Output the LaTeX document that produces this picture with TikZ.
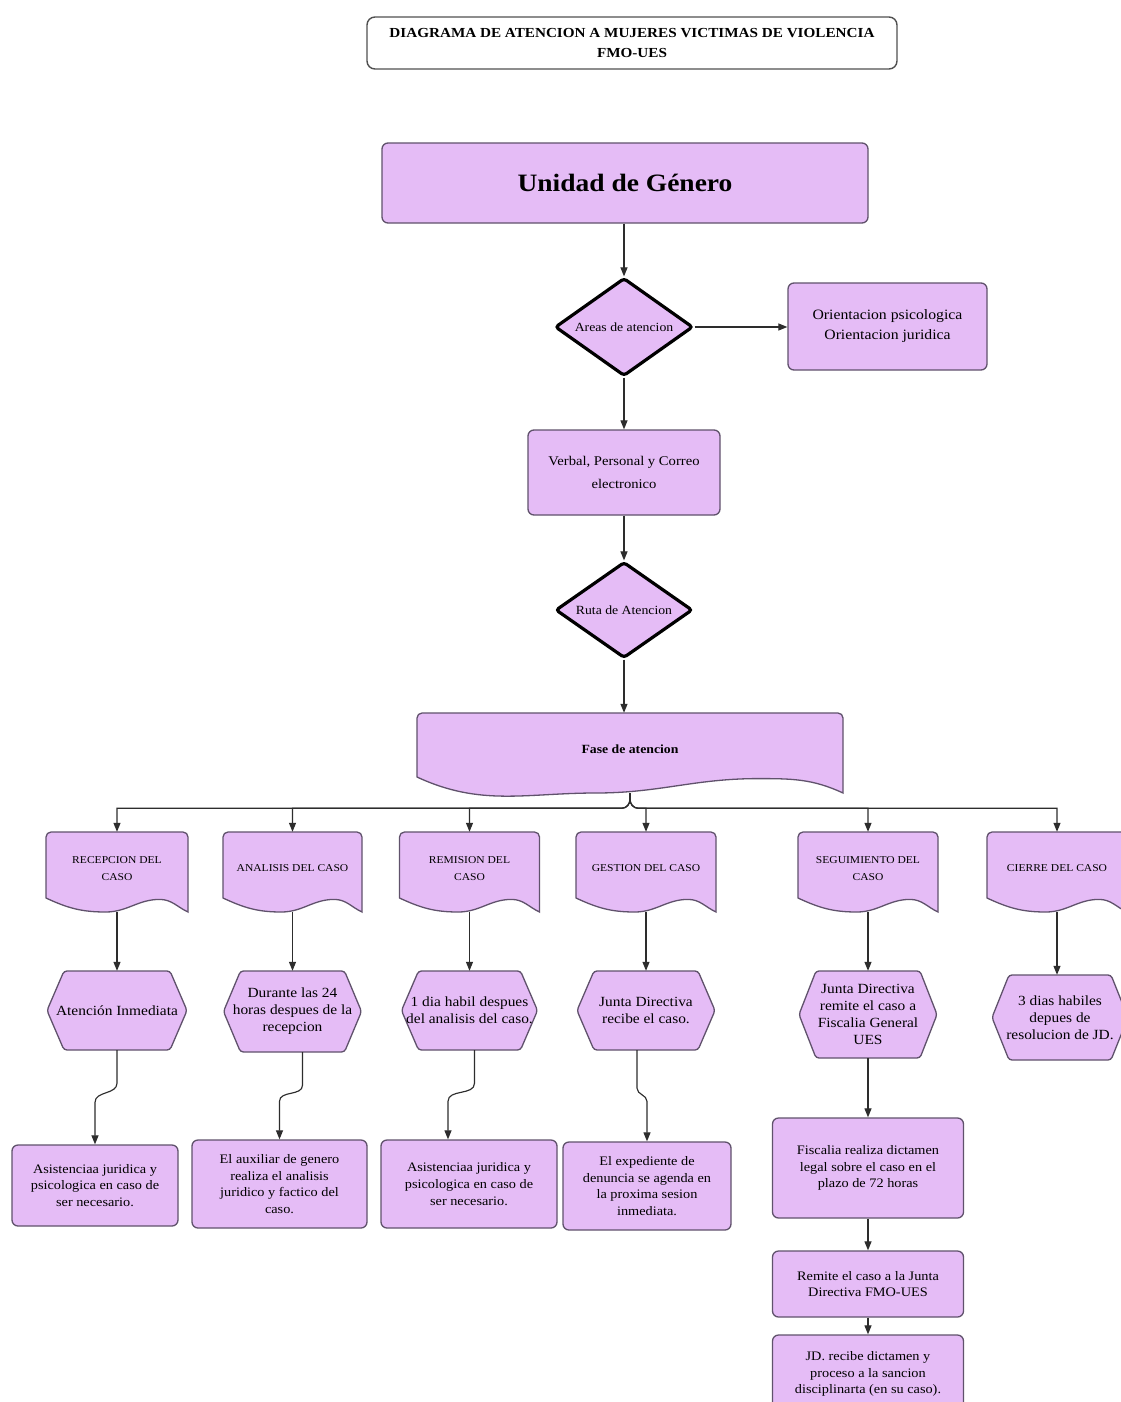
\documentclass[tikz,border=0pt]{standalone}
\usepackage{fontspec}
\setmainfont{Liberation Serif}[FakeStretch=1.1]
\usetikzlibrary{shapes.geometric,arrows.meta,calc}
\pgfdeclarelayer{background}
\pgfsetlayers{background,main}
\definecolor{lilac}{RGB}{229,188,246}
\definecolor{edgec}{RGB}{96,82,108}
\definecolor{wirec}{RGB}{45,45,45}
\definecolor{titleedge}{RGB}{80,80,80}

\tikzset{
  box/.style={draw=edgec, fill=lilac, line width=1.3pt, rounded corners=6pt, align=center, inner sep=0pt,
    font=\fontsize{13}{16.7}\selectfont},
  titlebox/.style={draw=titleedge, fill=white, line width=1.4pt, rounded corners=8pt, align=center, inner sep=0pt,
    font=\fontsize{13.8}{20}\selectfont\bfseries},
  dec/.style={diamond, aspect=1.4, draw=black, fill=lilac, line width=3.2pt, rounded corners=3pt, inner sep=0pt,
    minimum width=138pt, minimum height=98pt, font=\fontsize{12.5}{15}\selectfont},
  docarea/.style={draw=none, inner sep=0pt, align=center},
  docshape/.style={draw=edgec, fill=lilac, line width=1.3pt},
  hexshape/.style={draw=edgec, fill=lilac, line width=1.3pt, rounded corners=3pt},
  hexfont/.style={font=\fontsize{14}{17}\selectfont},
  phasefont/.style={font=\fontsize{10.5}{16.7}\selectfont},
  fasefont/.style={font=\fontsize{12.5}{15}\selectfont\bfseries},
  verbfont/.style={font=\fontsize{13.3}{23}\selectfont},
  orientfont/.style={font=\fontsize{14.3}{20}\selectfont},
  arr/.style={draw=wirec, line width=1.15pt, -{Triangle[length=9pt,width=7pt]}},
}

% document shape: #1 name, #2 cx, #3 top, #4 bottom, #5 width, #6 wave depth, #7 font style, #8 text
\newcommand\docbox[8]{%
  \node[docarea, minimum width=#5pt, minimum height={(#4-#3)*1pt}] (#1) at (#2,{-(#3+#4)/2}) {};
  \node[docarea, #7] (#1t) at (#2,{-(2*#3+2*#4-#6)/4}) {#8};
  \begin{pgfonlayer}{background}
  \path[docshape] ({#2-#5/2},{-#4+#6}) -- ({#2-#5/2},{-#3-5})
     arc[start angle=180,end angle=90,radius=5] -- ({#2+#5/2-5},-#3)
     arc[start angle=90,end angle=0,radius=5] -- ({#2+#5/2},-#4)
     to[out=155,in=0] ({#2-#5/2+0.8*#5},{-#4+0.9*#6})
     to[out=180,in=0] ({#2-#5/2+0.42*#5},-#4)
     to[out=180,in=-25] ({#2-#5/2},{-#4+#6}) -- cycle;
  \end{pgfonlayer}}

% hexagon: #1 name, #2 cx, #3 cy, #4 width, #5 height, #6 inset, #7 text
\newcommand\hexbox[7]{%
  \node[docarea, hexfont, minimum width=#4pt, minimum height=#5pt] (#1) at (#2,-#3) {#7};
  \begin{pgfonlayer}{background}
  \path[hexshape] ({#2-#4/2},-#3) -- ({#2-#4/2+#6},{-#3+#5/2}) -- ({#2+#4/2-#6},{-#3+#5/2})
     -- ({#2+#4/2},-#3) -- ({#2+#4/2-#6},{-#3-#5/2}) -- ({#2-#4/2+#6},{-#3-#5/2}) -- cycle;
  \end{pgfonlayer}}

\begin{document}
\begin{tikzpicture}[x=1pt,y=1pt]
\useasboundingbox (0,0) rectangle (1120,-1402);
\begin{pgfonlayer}{background}
\fill[white] (0,0) rectangle (1120,-1402);
\end{pgfonlayer}

% title
\node[titlebox, minimum width=530pt, minimum height=52pt] (title) at (632,-43)
  {DIAGRAMA DE ATENCION A MUJERES VICTIMAS DE VIOLENCIA\\FMO-UES};

% top column
\node[box, minimum width=486pt, minimum height=80pt, font=\fontsize{25}{30}\selectfont\bfseries] (unidad) at (625,-183) {Unidad de Género};
\node[dec] (areas) at (624,-327) {Areas de atencion};
\node[box, orientfont, minimum width=199pt, minimum height=87pt] (orient) at (887.5,-326.5) {Orientacion psicologica\\Orientacion juridica};
\node[box, verbfont, minimum width=192pt, minimum height=85pt] (verbal) at (624,-472.5) {Verbal, Personal y Correo\\electronico};
\node[dec, minimum width=137pt, minimum height=96pt] (ruta) at (624,-610) {Ruta de Atencion};
\docbox{fase}{630}{713}{793}{426}{16}{fasefont}{Fase de atencion}

% phases
\docbox{p1}{117}{832}{912}{142}{14}{phasefont}{RECEPCION DEL\\CASO}
\docbox{p2}{292.5}{832}{912}{139}{14}{phasefont}{ANALISIS DEL CASO}
\docbox{p3}{469.5}{832}{912}{140}{14}{phasefont}{REMISION DEL\\CASO}
\docbox{p4}{646}{832}{912}{140}{14}{phasefont}{GESTION DEL CASO}
\docbox{p5}{868}{832}{912}{140}{14}{phasefont}{SEGUIMIENTO DEL\\CASO}
\docbox{p6}{1057}{832}{912}{140}{14}{phasefont}{CIERRE DEL CASO}

% hexagons
\hexbox{h1}{117}{1010.5}{140}{79}{17}{Atención Inmediata}
\hexbox{h2}{292.5}{1011.5}{138}{81}{17}{Durante las 24\\horas despues de la\\recepcion}
\hexbox{h3}{469.5}{1010.5}{136}{79}{17}{1 dia habil despues\\del analisis del caso.}
\hexbox{h4}{646}{1010.5}{138}{79}{17}{Junta Directiva\\recibe el caso.}
\hexbox{h5}{868}{1014.5}{138}{87}{17}{Junta Directiva\\remite el caso a\\Fiscalia General\\UES}
\hexbox{h6}{1060}{1017.5}{136}{85}{17}{3 dias habiles\\depues de\\resolucion de JD.}

% bottom boxes
\node[box, minimum width=166pt, minimum height=81pt] (b1) at (95,-1185.5) {Asistenciaa juridica y\\psicologica en caso de\\ser necesario.};
\node[box, minimum width=175pt, minimum height=88pt] (b2) at (279.5,-1184) {El auxiliar de genero\\realiza el analisis\\juridico y factico del\\caso.};
\node[box, minimum width=176pt, minimum height=88pt] (b3) at (469,-1184) {Asistenciaa juridica y\\psicologica en caso de\\ser necesario.};
\node[box, minimum width=168pt, minimum height=88pt] (b4) at (647,-1186) {El expediente de\\denuncia se agenda en\\la proxima sesion\\inmediata.};
\node[box, minimum width=191pt, minimum height=100pt] (fisc) at (868,-1168) {Fiscalia realiza dictamen\\legal sobre el caso en el\\plazo de 72 horas};
\node[box, minimum width=191pt, minimum height=66pt] (remite) at (868,-1284) {Remite el caso a la Junta\\Directiva FMO-UES};
\node[box, minimum width=191pt, minimum height=78pt] (jd) at (868,-1374) {JD. recibe dictamen y\\proceso a la sancion\\disciplinarta (en su caso).};

% connectors, top column
\draw[arr] (unidad.south -| areas.north) -- (areas.north);
\draw[arr] (areas.east) -- (areas.east -| orient.west);
\draw[arr] (areas.south) -- (verbal.north);
\draw[arr] (verbal.south) -- (ruta.north);
\draw[arr] (ruta.south) -- (ruta.south |- fase.north);

% bus with brace
\foreach \p in {p1,p2,p3}
  \draw[arr] (fase.south) -- ++(0,-6) to[out=-90,in=0] ++(-8,-9) -| (\p.north);
\foreach \p in {p4,p5,p6}
  \draw[arr] (fase.south) -- ++(0,-6) to[out=-90,in=180] ++(8,-9) -| (\p.north);

% phases to hexagons
\foreach \i in {1,...,5}
  \draw[arr] (p\i.south) -- (h\i.north);
\draw[arr] (p6.south) -- (p6.south |- h6.north);

% hexagons to boxes
\draw[arr] (h1.south) -- ++(0,-33) to[out=-90,in=90] ($(b1.north)+(0,42)$) -- (b1.north);
\draw[arr] ($(h2.south)+(10,0)$) -- ++(0,-33) to[out=-90,in=90] ($(b2.north)+(0,38)$) -- (b2.north);
\draw[arr] ($(h3.south)+(5,0)$) -- ++(0,-33) to[out=-90,in=90] ($(b3.north)+(-21,38)$) -- ($(b3.north)+(-21,0)$);
\draw[arr] ($(h4.south)+(-9,0)$) -- ++(0,-38) to[out=-90,in=90] ($(b4.north)+(0,40)$) -- (b4.north);
\draw[arr] (h5.south) -- (fisc.north);
\draw[arr] (fisc.south) -- (remite.north);
\draw[arr] (remite.south) -- (jd.north);
\end{tikzpicture}
\end{document}
